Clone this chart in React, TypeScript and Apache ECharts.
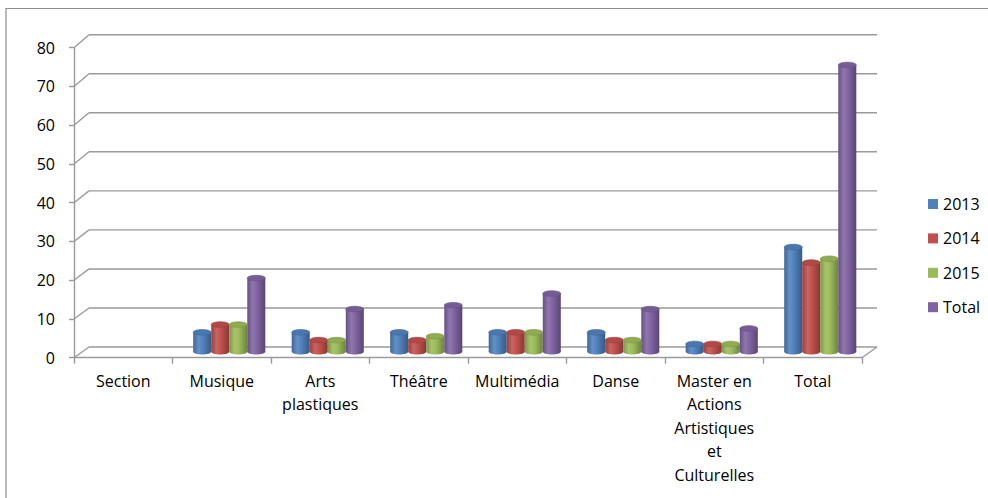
import React, { useEffect, useRef } from "react";
import * as echarts from "echarts";

const categories = [
  "Section",
  "Musique",
  "Arts\nplastiques",
  "Théâtre",
  "Multimédia",
  "Danse",
  "Master en\nActions\nArtistiques\net\nCulturelles",
  "Total",
];
const seriesNames = ["2013", "2014", "2015", "Total"];
const values2013 = [null, 5, 5, 5, 5, 5, 2, 27];
const values2014 = [null, 7, 3, 3, 5, 3, 2, 23];
const values2015 = [null, 7, 3, 4, 5, 3, 2, 24];
const valuesTotal = [null, 19, 11, 12, 15, 11, 6, 74];
const yTicks = [0, 10, 20, 30, 40, 50, 60, 70, 80];
const colors = ["#4F81BD", "#C0504D", "#9BBB59", "#8064A2"];

const FONT = "Open Sans";
const DEPTH_X = 15;
const GRID_COLOR = "#9a9a9a";

function shade(hex: string, f: number) {
  const n = parseInt(hex.slice(1), 16);
  let r = (n >> 16) & 255,
    g = (n >> 8) & 255,
    b = n & 255;
  if (f < 0) {
    r = Math.round(r * (1 + f));
    g = Math.round(g * (1 + f));
    b = Math.round(b * (1 + f));
  } else {
    r = Math.round(r + (255 - r) * f);
    g = Math.round(g + (255 - g) * f);
    b = Math.round(b + (255 - b) * f);
  }
  return `rgb(${r},${g},${b})`;
}

function depthY(y: number) {
  // slight perspective: the back wall recedes a bit more near the top
  return -10.7 - 2.3 * Math.max(0, (357.7 - y) / 310);
}

export default function App() {
  const ref = useRef<HTMLDivElement>(null);
  useEffect(() => {
    if (!ref.current) return;
    const chart = echarts.init(ref.current, undefined, { renderer: "svg" });
    const all = [values2013, values2014, values2015, valuesTotal];

    const barSeries = all.map((vals, si) => ({
      type: "custom",
      name: seriesNames[si],
      coordinateSystem: "cartesian2d",
      itemStyle: { color: colors[si] },
      z: 5,
      data: vals.map((v, i) => [i, v]).filter((d) => d[1] != null),
      renderItem: (params: any, api: any) => {
        const ci = api.value(0);
        const v = api.value(1);
        const top = api.coord([ci, v]);
        const base = api.coord([ci, 0]);
        const band = api.size([1, 0])[0];
        const w = band * 0.183;
        const cx = top[0] + (si - 1.5) * w + DEPTH_X / 2;
        const yTop = top[1] - 6;
        const yBase = base[1] - 6;
        const c = colors[si];
        const grad = new echarts.graphic.LinearGradient(0, 0, 1, 0, [
          { offset: 0, color: shade(c, -0.2) },
          { offset: 0.3, color: shade(c, 0.12) },
          { offset: 0.55, color: c },
          { offset: 1, color: shade(c, -0.3) },
        ]);
        const ry = 2.8;
        return {
          type: "group",
          children: [
            {
              type: "ellipse",
              shape: { cx, cy: yBase, rx: w / 2, ry },
              style: { fill: grad },
            },
            {
              type: "rect",
              shape: { x: cx - w / 2, y: yTop, width: w, height: Math.max(0, yBase - yTop) },
              style: { fill: grad },
            },
            {
              type: "ellipse",
              shape: { cx, cy: yTop, rx: w / 2, ry },
              style: { fill: shade(c, -0.08), stroke: shade(c, -0.2), lineWidth: 0.6 },
            },
          ],
        };
      },
    }));

    const frameSeries = {
      type: "custom",
      name: "frame",
      coordinateSystem: "cartesian2d",
      silent: true,
      z: 1,
      data: yTicks.map((t) => [0, t]),
      renderItem: (params: any, api: any) => {
        const v = api.value(1);
        const p = api.coord([0, v]);
        const cs = params.coordSys;
        const x0 = cs.x;
        const x1 = cs.x + cs.width;
        const y = p[1];
        const dy = depthY(y);
        const st = { stroke: GRID_COLOR, lineWidth: 1.4 };
        const children: any[] = [
          { type: "line", shape: { x1: x0, y1: y, x2: x0 + DEPTH_X, y2: y + dy }, style: st },
          { type: "line", shape: { x1: x0 + DEPTH_X, y1: y + dy, x2: x1 + DEPTH_X, y2: y + dy }, style: st },
        ];
        if (v === 0) {
          children.push({
            type: "line",
            shape: { x1: x1, y1: y, x2: x1 + DEPTH_X, y2: y + dy },
            style: st,
          });
        }
        return { type: "group", children };
      },
    };

    chart.setOption({
      animation: false,
      textStyle: { fontFamily: FONT },
      graphic: [
        {
          type: "rect",
          shape: { x: 6, y: 8.5, width: 1000, height: 520 },
          style: { fill: "none", stroke: "#8c8c8c", lineWidth: 1.2 },
          silent: true,
        },
      ],
      grid: { left: 74, right: 126, top: 47.7, bottom: 140.3, containLabel: false },
      legend: {
        data: seriesNames,
        orient: "vertical",
        left: 928,
        top: 196,
        padding: 0,
        itemWidth: 10,
        itemHeight: 10,
        itemGap: 18.4,
        icon: "rect",
        textStyle: { fontFamily: FONT, fontSize: 16, color: "#000", lineHeight: 16 },
      },
      xAxis: {
        type: "category",
        data: categories,
        axisLine: { show: true, lineStyle: { color: GRID_COLOR, width: 1.4 } },
        axisTick: { show: true, length: 6, lineStyle: { color: GRID_COLOR, width: 1.4 } },
        axisLabel: {
          interval: 0,
          margin: 11.5,
          fontFamily: FONT,
          fontSize: 16,
          color: "#000",
          lineHeight: 23.5,
        },
        splitLine: { show: false },
      },
      yAxis: {
        type: "value",
        min: 0,
        max: 80,
        interval: 10,
        axisLine: { show: true, lineStyle: { color: GRID_COLOR, width: 1.4 } },
        axisTick: { show: true, length: 5, lineStyle: { color: GRID_COLOR, width: 1.4 } },
        axisLabel: { margin: 19, fontFamily: FONT, fontSize: 16, color: "#000" },
        splitLine: { show: false },
      },
      series: [frameSeries, ...barSeries],
    });
    return () => chart.dispose();
  }, []);
  return (
    <div
      ref={ref}
      style={{ position: "fixed", left: 0, top: 0, width: 988, height: 498, background: "#fff" }}
    />
  );
}
